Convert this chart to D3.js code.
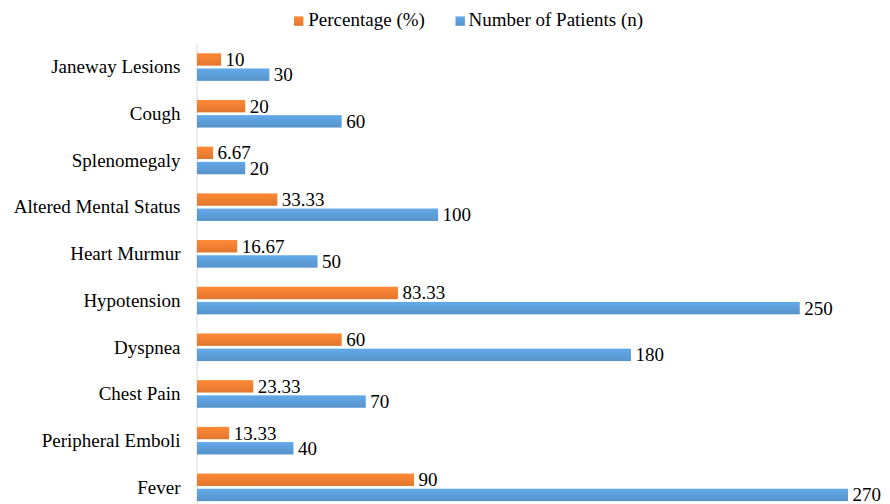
<!DOCTYPE html>
<html>
<head>
<meta charset="utf-8">
<script src="https://cdn.jsdelivr.net/npm/d3@7"></script>
</head>
<body style="margin:0">
<svg id="chart" width="890" height="504"></svg>
<script>
// Symptoms, listed top to bottom
const categories = [
  "Janeway Lesions", "Cough", "Splenomegaly", "Altered Mental Status",
  "Heart Murmur", "Hypotension", "Dyspnea", "Chest Pain",
  "Peripheral Emboli", "Fever"
];
const percentage = [10, 20, 6.67, 33.33, 16.67, 83.33, 60, 23.33, 13.33, 90];
const patients   = [30, 60, 20, 100, 50, 250, 180, 70, 40, 270];
const seriesNames = ["Percentage (%)", "Number of Patients (n)"];
const seriesColors = ["#ED7D31", "#5B9BD5"];

const FONT = "Liberation Serif";
const FS = 19;

const svg = d3.select("#chart");
const margin = { left: 196.5, top: 43.7 };
const plotBottom = 510.7;

const x = d3.scaleLinear().domain([0, 270]).range([margin.left, margin.left + 651]);
const y = d3.scaleBand().domain(categories).range([margin.top, plotBottom]).paddingInner(0).paddingOuter(0);
const bar = 12.4, gap = 2.8;

// Subtle vertical gradients on the bar fills
const defs = svg.append("defs");
seriesColors.forEach((c, i) => {
  const g = defs.append("linearGradient").attr("id", "grad" + i)
    .attr("x1", 0).attr("y1", 0).attr("x2", 0).attr("y2", 1);
  g.append("stop").attr("offset", "0%").attr("stop-color", d3.color(c).brighter(0.25));
  g.append("stop").attr("offset", "100%").attr("stop-color", d3.color(c).darker(0.15));
});

// Category axis
const yAxis = d3.axisLeft(y).tickSize(0).tickPadding(16);
const ga = svg.append("g").attr("transform", `translate(${margin.left},0)`).call(yAxis)
  .attr("font-family", null).attr("font-size", null);
ga.select(".domain").attr("stroke", "#d9d9d9").attr("stroke-width", 1);
ga.selectAll(".tick text")
  .attr("font-family", FONT).attr("font-size", FS)
  .attr("fill", "#000").attr("dy", "0.33em");

const rows = categories.map((c, i) => ({ c, vals: [percentage[i], patients[i]] }));
const fmt = v => String(v);

rows.forEach(r => {
  const center = y(r.c) + y.bandwidth() / 2;
  r.vals.forEach((v, s) => {
    const top = s === 0 ? center - gap / 2 - bar : center + gap / 2;
    svg.append("rect")
      .attr("x", x(0) + 0.5).attr("y", top)
      .attr("width", x(v) - x(0)).attr("height", bar)
      .attr("fill", `url(#grad${s})`);
    svg.append("text")
      .attr("x", x(v) + 5).attr("y", top + bar / 2).attr("dy", "0.34em")
      .attr("font-family", FONT).attr("font-size", FS)
      .attr("fill", "#000").text(fmt(v));
  });
});

// Legend
const legend = [{ x: 294, tx: 308.3, name: seriesNames[0] },
                { x: 455.5, tx: 468.5, name: seriesNames[1] }];
legend.forEach((l, i) => {
  svg.append("rect").attr("x", l.x).attr("y", 16.4).attr("width", 9.4).attr("height", 9.4)
    .attr("fill", `url(#grad${i})`);
  svg.append("text").attr("x", l.tx).attr("y", 25.6)
    .attr("font-family", FONT).attr("font-size", FS)
    .attr("fill", "#000").text(l.name);
});
</script>
</body>
</html>
